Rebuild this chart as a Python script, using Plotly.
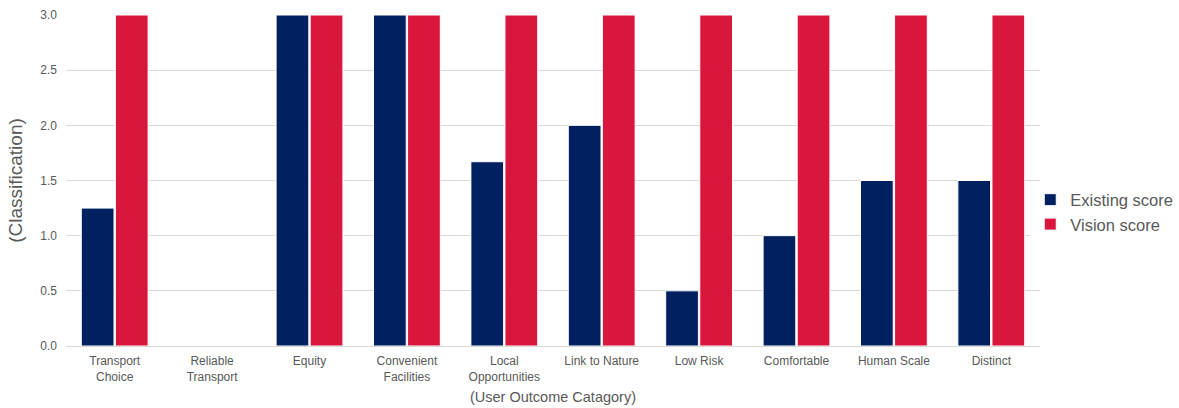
import plotly.graph_objects as go

categories = [
    "Transport<br>Choice", "Reliable<br>Transport", "Equity", "Convenient<br>Facilities",
    "Local<br>Opportunities", "Link to Nature", "Low Risk", "Comfortable",
    "Human Scale", "Distinct",
]
existing_score = [1.25, None, 3.0, 3.0, 1.67, 2.0, 0.5, 1.0, 1.5, 1.5]
vision_score = [3.0, None, 3.0, 3.0, 3.0, 3.0, 3.0, 3.0, 3.0, 3.0]
y_ticks = [0.0, 0.5, 1.0, 1.5, 2.0, 2.5, 3.0]

NAVY = "#002060"
RED = "#D9163B"
GREY = "#595959"

fig = go.Figure()
fig.add_trace(go.Bar(
    name="Existing score", x=categories, y=existing_score,
    marker=dict(color=NAVY, line=dict(color="white", width=1)),
))
fig.add_trace(go.Bar(
    name="Vision score", x=categories, y=vision_score,
    marker=dict(color=RED, line=dict(color="white", width=1)),
))

fig.update_layout(
    width=1179, height=408,
    margin=dict(l=66, r=139, t=15, b=62, autoexpand=False),
    paper_bgcolor="white", plot_bgcolor="white",
    barmode="group", bargap=0.3, bargroupgap=0.04,
    font=dict(family="Liberation Sans, Arial, sans-serif", color=GREY, size=12),
    legend=dict(
        x=0.99, y=0.405, xanchor="left", yanchor="middle",
        font=dict(size=16.5, color=GREY), itemwidth=30, tracegroupgap=2,
    ),
    showlegend=True,
)
fig.update_xaxes(
    title=dict(text="(User Outcome Catagory)", font=dict(size=14.5, color=GREY), standoff=9),
    showgrid=False, showline=False, ticks="", ticklabelstandoff=6,
    tickfont=dict(size=12, color=GREY), automargin=False,
)
fig.update_yaxes(
    title=dict(text="(Classification)", font=dict(size=19, color=GREY), standoff=12),
    range=[0, 3], tickvals=y_ticks, tickformat=".1f",
    showgrid=True, gridcolor="#D9D9D9", gridwidth=1,
    zeroline=True, zerolinecolor="#D9D9D9", zerolinewidth=1,
    ticks="", ticklabelstandoff=8, tickfont=dict(size=12, color=GREY), automargin=False,
)

fig.write_html("out.html")
